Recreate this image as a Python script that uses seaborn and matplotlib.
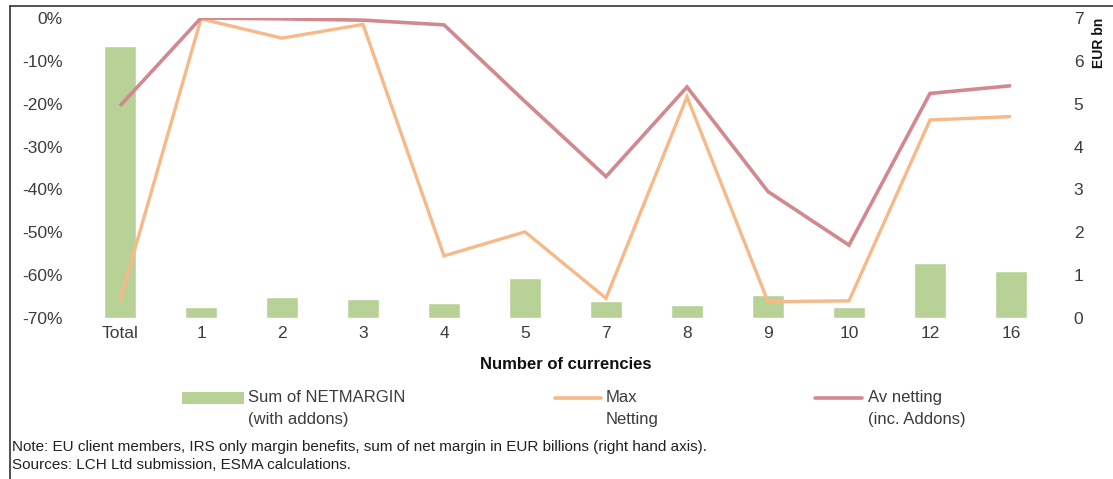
import numpy as np
import pandas as pd
import matplotlib
matplotlib.use("Agg")
import matplotlib.pyplot as plt
from matplotlib.lines import Line2D
from matplotlib.patches import Rectangle
from matplotlib.ticker import FuncFormatter
import seaborn as sns

categories = ["Total", "1", "2", "3", "4", "5", "7", "8", "9", "10", "12", "16"]
net_margin = [6.35, 0.25, 0.50, 0.44, 0.34, 0.93, 0.40, 0.31, 0.53, 0.26, 1.29, 1.09]
max_netting = [-0.66, -0.002, -0.047, -0.015, -0.555, -0.499, -0.654, -0.184, -0.662, -0.660, -0.238, -0.230]
av_netting = [-0.205, 0.0, -0.002, -0.005, -0.016, -0.195, -0.370, -0.161, -0.405, -0.530, -0.176, -0.158]

legend_labels = ["Sum of NETMARGIN\n(with addons)", "Max\nNetting", "Av netting\n(inc. Addons)"]
note_lines = [
    "Note: EU client members, IRS only margin benefits, sum of net margin in EUR billions (right hand axis).",
    "Sources: LCH Ltd submission, ESMA calculations.",
]

GREEN = "#b7d196"
ORANGE = "#f6b987"
ROSE = "#d3878e"
TXT = "#3c3c3c"

sns.set_theme(style="white")
plt.rcParams["font.family"] = ["Liberation Sans", "DejaVu Sans"]

df = pd.DataFrame({
    "cat": categories,
    "pos": np.arange(len(categories)),
    "margin": net_margin,
    "maxnet": max_netting,
    "avnet": av_netting,
})

W, H = 1113, 479
fig = plt.figure(figsize=(W / 100, H / 100), dpi=100)
left, right, top, bottom = 79.5, 1051.5, 18, 318
ax = fig.add_axes([left / W, 1 - bottom / H, (right - left) / W, (bottom - top) / H])
ax2 = ax.twinx()

# bars on the right axis (EUR bn)
sns.barplot(data=df, x="cat", y="margin", order=categories, color=GREEN,
            saturation=1, width=0.4, ax=ax2, zorder=1)
ax2.set_ylim(0, 7)
ax2.set_yticks(range(0, 8))

# lines on the left axis (percent)
sns.lineplot(data=df, x="pos", y="maxnet", color=ORANGE, lw=2.4, sort=False, ax=ax,
             solid_capstyle="butt", solid_joinstyle="miter")
sns.lineplot(data=df, x="pos", y="avnet", color=ROSE, lw=2.6, sort=False, ax=ax,
             solid_capstyle="butt", solid_joinstyle="miter")
ax.set_ylim(-0.70, 0.0)
ax.set_yticks(np.arange(-0.7, 0.001, 0.1))
ax.yaxis.set_major_formatter(FuncFormatter(lambda v, p: f"{int(round(v * 100))}%"))

ax.set_xlim(-0.5, len(categories) - 0.5)
ax2.set_xlim(-0.5, len(categories) - 0.5)
ax.set_xticks(np.arange(len(categories)))
ax.set_xticklabels(categories)

ax.set_zorder(2)
ax2.set_zorder(1)
ax.patch.set_visible(False)

for a in (ax, ax2):
    for s in a.spines.values():
        s.set_visible(False)
    a.grid(False)

ax.tick_params(axis="y", length=0, pad=12, labelsize=12.5, labelcolor=TXT)
ax.tick_params(axis="x", length=0, pad=6, labelsize=12.5, labelcolor=TXT)
ax2.tick_params(axis="y", length=0, pad=16, labelsize=12.5, labelcolor=TXT)
ax2.tick_params(axis="x", length=0, labelbottom=False)
ax2.set_xlabel("")
ax.set_ylabel("")
ax.set_xlabel("Number of currencies", fontsize=12, fontweight="bold", color="#111111", labelpad=11)
ax2.set_ylabel("EUR bn", fontsize=10, fontweight="bold", color="#111111", loc="top", labelpad=6)

# legend (manual, handles aligned with first line of each label)
y_leg = 1 - 398 / H
fig.add_artist(Rectangle((182 / W, 1 - 404 / H), 62 / W, 12 / H, transform=fig.transFigure,
                         facecolor=GREEN, edgecolor="none"))
fig.add_artist(Line2D([555 / W, 601 / W], [y_leg, y_leg], transform=fig.transFigure,
                      color=ORANGE, lw=2.6))
fig.add_artist(Line2D([815 / W, 862 / W], [y_leg, y_leg], transform=fig.transFigure,
                      color=ROSE, lw=2.6))
for xpix, lab in zip([248, 606, 868], legend_labels):
    fig.text(xpix / W, 1 - 390 / H, lab, fontsize=12, color=TXT, va="top", ha="left",
             linespacing=1.6)

fig.text(12 / W, 1 - 447 / H, note_lines[0], fontsize=11, color="#222222", va="center", ha="left")
fig.text(12 / W, 1 - 465 / H, note_lines[1], fontsize=11, color="#222222", va="center", ha="left")

# partial frame (top and left edges)
fig.add_artist(Line2D([10 / W, 1.0], [1 - 6 / H, 1 - 6 / H], transform=fig.transFigure,
                      color="#333333", lw=1.2))
fig.add_artist(Line2D([10 / W, 10 / W], [0, 1 - 6 / H], transform=fig.transFigure,
                      color="#333333", lw=1.2))

fig.savefig("out.png", dpi=100, facecolor="white")
